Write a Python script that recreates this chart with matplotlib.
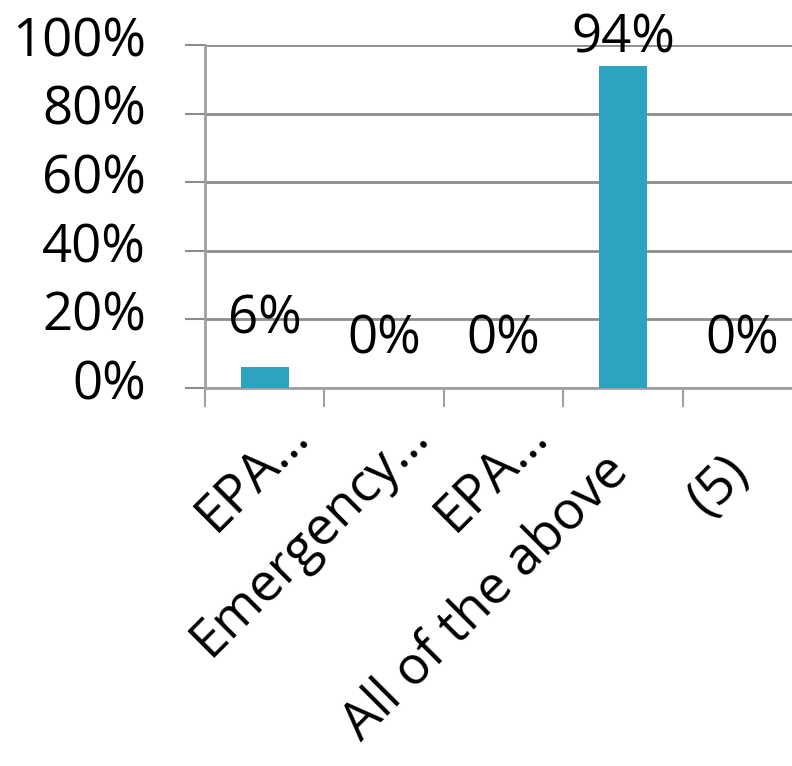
import matplotlib
matplotlib.use("Agg")
import matplotlib.pyplot as plt
from matplotlib.ticker import FuncFormatter
from matplotlib.transforms import ScaledTranslation

categories = ["EPA…", "Emergency…", "EPA…", "All of the above", "(5)"]
values = [6, 0, 0, 94, 0]
yticks = [0, 20, 40, 60, 80, 100]

# layout (style) settings for rotated category labels, in pixels (dx right, dy down)
truncated = [True, True, True, False, False]
label_end_trunc = (46, 49)
label_end_full = (8, 86)

plt.rcParams['font.family'] = ['Open Sans', 'DejaVu Sans']
FS = 38
FS_X = 38

fig = plt.figure(figsize=(7.92, 7.66), dpi=100)
ax = fig.add_axes([205/792, (766-388)/766, 597/792, 343/766])

x = list(range(len(categories)))
ax.bar(x, values, width=0.4, color="#2ca3c0", zorder=3)

ax.set_xlim(-0.5, len(categories) - 0.5)
ax.set_ylim(0, 100)
ax.set_yticks(yticks)
ax.yaxis.set_major_formatter(FuncFormatter(lambda v, p: f"{int(v)}%"))
ax.grid(axis='y', color="#8c8c8c", linewidth=2, zorder=0)
ax.set_axisbelow(True)

for s in ['top', 'right']:
    ax.spines[s].set_visible(False)
ax.spines['left'].set_color("#a0a0a0")
ax.spines['left'].set_linewidth(2)
ax.spines['bottom'].set_color("#a0a0a0")
ax.spines['bottom'].set_linewidth(2)

ax.tick_params(axis='y', length=14.4, width=1.5, color="#8c8c8c", labelsize=FS, pad=28)
for lab in ax.get_yticklabels():
    lab.set_transform(lab.get_transform() + ScaledTranslation(0, 0.09, fig.dpi_scale_trans))

ax.set_xticks([i - 0.5 for i in x] + [len(categories) - 0.5])
ax.set_xticklabels([])
ax.tick_params(axis='x', which='major', length=13.7, width=1.5, color="#a0a0a0")

xt = ax.get_xaxis_transform()
for xi, lab, tr in zip(x, categories, truncated):
    dx, dy = label_end_trunc if tr else label_end_full
    t = xt + ScaledTranslation(dx / 100, -dy / 100, fig.dpi_scale_trans)
    ax.text(xi, 0, lab, transform=t, rotation=45, rotation_mode='anchor',
            ha='right', va='baseline', fontsize=FS_X, clip_on=False)

for xi, v in zip(x, values):
    ypos = min(v + 10, 97.7)
    ax.text(xi, ypos, f"{v}%", ha='center', va='baseline', fontsize=FS, clip_on=False)

fig.savefig("out.png", dpi=100)
